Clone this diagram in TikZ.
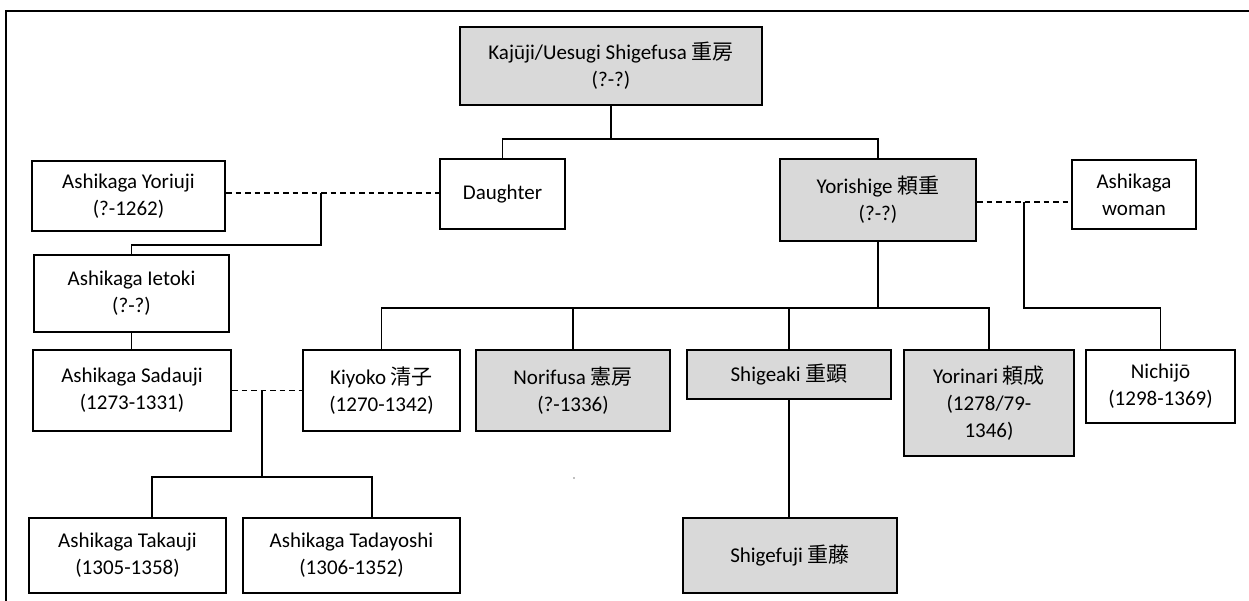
\documentclass[tikz,border=0pt]{standalone}
\usepackage{fontspec}
\setmainfont{Carlito}
\newfontfamily\cjk{Noto Sans CJK JP}
\definecolor{boxgray}{HTML}{D9D9D9}
\tikzset{
  pbox/.style={draw=black, line width=2pt, rectangle, align=center, inner sep=2pt,
    font=\fontsize{21}{27}\selectfont, text=black},
  gbox/.style={pbox, fill=boxgray},
  wbox/.style={pbox, fill=white},
  conn/.style={line width=1.4pt, draw=black},
  marr/.style={conn, dash pattern=on 5.5pt off 4pt},
}
\begin{document}
\begin{tikzpicture}[x=1pt,y=1pt]
\useasboundingbox (0,0) rectangle (1249,-600);
\fill[white] (0,0) rectangle (1249,-600);
% frame
\coordinate (fa) at (6,-605);
\coordinate (fb) at (6,-10.7);
\coordinate (fc) at (1255,-10.7);
\draw[line width=1.6pt] (fa) -- (fb) -- (fc);

% helper rows
\coordinate (r1) at (0,-139);
\coordinate (m1) at (0,-193);
\coordinate (m2) at (0,-202);
\coordinate (r2) at (0,-245);
\coordinate (r4) at (0,-308);
\coordinate (r3) at (0,-477);
\coordinate (j1) at (321,-193);
\coordinate (j2) at (262,-390);
\coordinate (j3) at (1024,-202);

% nodes
\node[gbox, minimum width=302pt, minimum height=78pt] (kaj) at (611,-66) {Kajūji/Uesugi Shigefusa {\cjk 重房}\\(?-?)};
\node[wbox, minimum width=193pt, minimum height=70pt] (yor) at (128.5,-196) {Ashikaga Yoriuji\\(?-1262)};
\node[wbox, minimum width=125pt, minimum height=70pt] (dau) at (502.5,-194) {Daughter};
\node[gbox, minimum width=196pt, minimum height=82pt] (ysg) at (878,-200) {Yorishige {\cjk 頼重}\\(?-?)};
\node[wbox, minimum width=124pt, minimum height=69pt] (wom) at (1134,-194.5) {Ashikaga\\woman};
\node[wbox, minimum width=195pt, minimum height=77pt] (iet) at (131.5,-293.5) {Ashikaga Ietoki\\(?-?)};
\node[wbox, minimum width=198pt, minimum height=81pt] (sad) at (132,-390.5) {Ashikaga Sadauji\\(1273-1331)};
\node[wbox, minimum width=157pt, minimum height=81pt] (kiy) at (381.5,-390.5) {Kiyoko {\cjk 清子}\\(1270-1342)};
\node[gbox, minimum width=194pt, minimum height=81pt] (nor) at (573,-390.5) {Norifusa {\cjk 憲房}\\(?-1336)};
\node[gbox, minimum width=204pt, minimum height=49pt] (sha) at (789,-374.5) {Shigeaki {\cjk 重顕}};
\node[gbox, minimum width=170pt, minimum height=106pt] (yri) at (989,-403) {Yorinari {\cjk 頼成}\\(1278/79-\\1346)};
\node[wbox, minimum width=149pt, minimum height=73pt] (nic) at (1160.5,-386.5) {Nichijō\\(1298-1369)};
\node[wbox, minimum width=197pt, minimum height=75pt] (tak) at (127.5,-555.5) {Ashikaga Takauji\\(1305-1358)};
\node[wbox, minimum width=217pt, minimum height=75pt] (tad) at (351.5,-555.5) {Ashikaga Tadayoshi\\(1306-1352)};
\node[gbox, minimum width=214pt, minimum height=75pt] (shf) at (790,-555.5) {Shigefuji {\cjk 重藤}};

% Kajuji children
\draw[conn] (kaj.south) -- (kaj.south |- r1);
\draw[conn] (dau.north) -- (dau.north |- r1) -- (ysg.north |- r1) -- (ysg.north);

% Yoriuji -- Daughter
\draw[marr] (yor.east |- m1) -- (dau.west |- m1);
\draw[conn] (j1) -- (j1 |- r2) -- (iet.north |- r2) -- (iet.north);
\draw[conn] (iet.south) -- (iet.south |- sad.north);

% Sadauji -- Kiyoko
\draw[marr] (sad.east) -- (kiy.west);
\draw[conn] (j2) -- (j2 |- r3);
\draw[conn] ([xshift=24.5pt]tak.north) -- ([xshift=24.5pt]tak.north |- r3) -- ([xshift=20.5pt]tad.north |- r3) -- ([xshift=20.5pt]tad.north);

% Yorishige children
\draw[conn] (ysg.south) -- (ysg.south |- r4);
\draw[conn] (kiy.north) -- (kiy.north |- r4) -- (yri.north |- r4) -- (yri.north);
\draw[conn] (nor.north) -- (nor.north |- r4);
\draw[conn] (sha.north) -- (sha.north |- r4);

% Yorishige -- Ashikaga woman
\draw[marr] (ysg.east |- m2) -- (wom.west |- m2);
\draw[conn] (j3) -- (j3 |- r4) -- (nic.north |- r4) -- (nic.north);

% Shigeaki -- Shigefuji
\draw[conn] (sha.south) -- (sha.south |- shf.north);

% stray mark
\fill[gray] (574,-478) circle (0.8pt);
\end{tikzpicture}
\end{document}
